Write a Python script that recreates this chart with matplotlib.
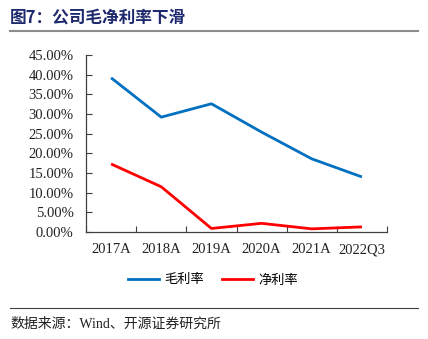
import matplotlib
matplotlib.use("Agg")
import matplotlib.pyplot as plt
import matplotlib.transforms as mtransforms
from matplotlib.lines import Line2D
from matplotlib.ticker import PercentFormatter

CJK = ['Noto Sans CJK SC', 'DejaVu Sans']
SERIF = 'Liberation Serif'

years = ['2017A', '2018A', '2019A', '2020A', '2021A', '2022Q3']
gross_margin = [39.2, 29.2, 32.6, 25.4, 18.6, 14.0]
net_margin = [17.3, 11.5, 0.9, 2.2, 0.8, 1.3]
y_ticks = [0, 5, 10, 15, 20, 25, 30, 35, 40, 45]

fig = plt.figure(figsize=(4.28, 3.39), dpi=100)
ax = fig.add_axes([86 / 428, 1 - 232 / 339, 301 / 428, 177 / 339])

x = range(len(years))
ax.plot(x, gross_margin, color='#0070C0', lw=2.0, solid_capstyle='butt')
ax.plot(x, net_margin, color='#FF0000', lw=2.0, solid_capstyle='butt')

ax.set_xlim(-0.5, len(years) - 0.5)
ax.set_ylim(0, 45)
ax.set_yticks(y_ticks)
ax.yaxis.set_major_formatter(PercentFormatter(decimals=2))
# category boundaries as tick marks, labels placed at centres on a common baseline
ax.set_xticks([i + 0.5 for i in range(-1, len(years))])
ax.set_xticklabels([])
ax.tick_params(axis='x', direction='in', length=4, width=0.8, color='#404040')
ax.tick_params(axis='y', direction='in', length=4, width=0.8, color='#404040', pad=9)
trans = mtransforms.blended_transform_factory(ax.transData, fig.transFigure)
for i, name in zip(x, years):
    ax.text(i, 1 - 253 / 339, name, transform=trans, ha='center', va='baseline',
            family=SERIF, fontsize=10.5, color='#222222')
for lab in ax.get_yticklabels():
    lab.set_family(SERIF)
    lab.set_fontsize(10.5)
    lab.set_color('#222222')
for s in ['top', 'right']:
    ax.spines[s].set_visible(False)
for s in ['left', 'bottom']:
    ax.spines[s].set_color('#404040')
    ax.spines[s].set_linewidth(0.9)

handles = [Line2D([], [], color='#0070C0', lw=2.0), Line2D([], [], color='#FF0000', lw=2.0)]
fig.legend(handles, ['毛利率', '净利率'], loc='center', bbox_to_anchor=(213 / 428, 1 - 280 / 339),
           ncol=2, frameon=False, prop={'family': CJK, 'size': 9.5}, handlelength=2.4,
           handletextpad=0.4, columnspacing=1.3)

# title and rules
fig.text(10 / 428, 1 - 17 / 339, '图7：公司毛净利率下滑', family=CJK, fontsize=12,
         fontweight='bold', color='#1F2A6E', va='center', ha='left')
fig.add_artist(Line2D([10 / 428, 418 / 428], [1 - 31 / 339] * 2, color='#8C8C8C', lw=1.5))
fig.add_artist(Line2D([10 / 428, 418 / 428], [1 - 308 / 339] * 2, color='#404040', lw=0.8))
fig.text(10 / 428, 1 - 324 / 339, '数据来源：Wind、开源证券研究所', family=['Liberation Serif', 'Noto Sans CJK SC'],
         fontsize=10, color='#222222', va='center', ha='left')

fig.savefig('out.png', dpi=100)
